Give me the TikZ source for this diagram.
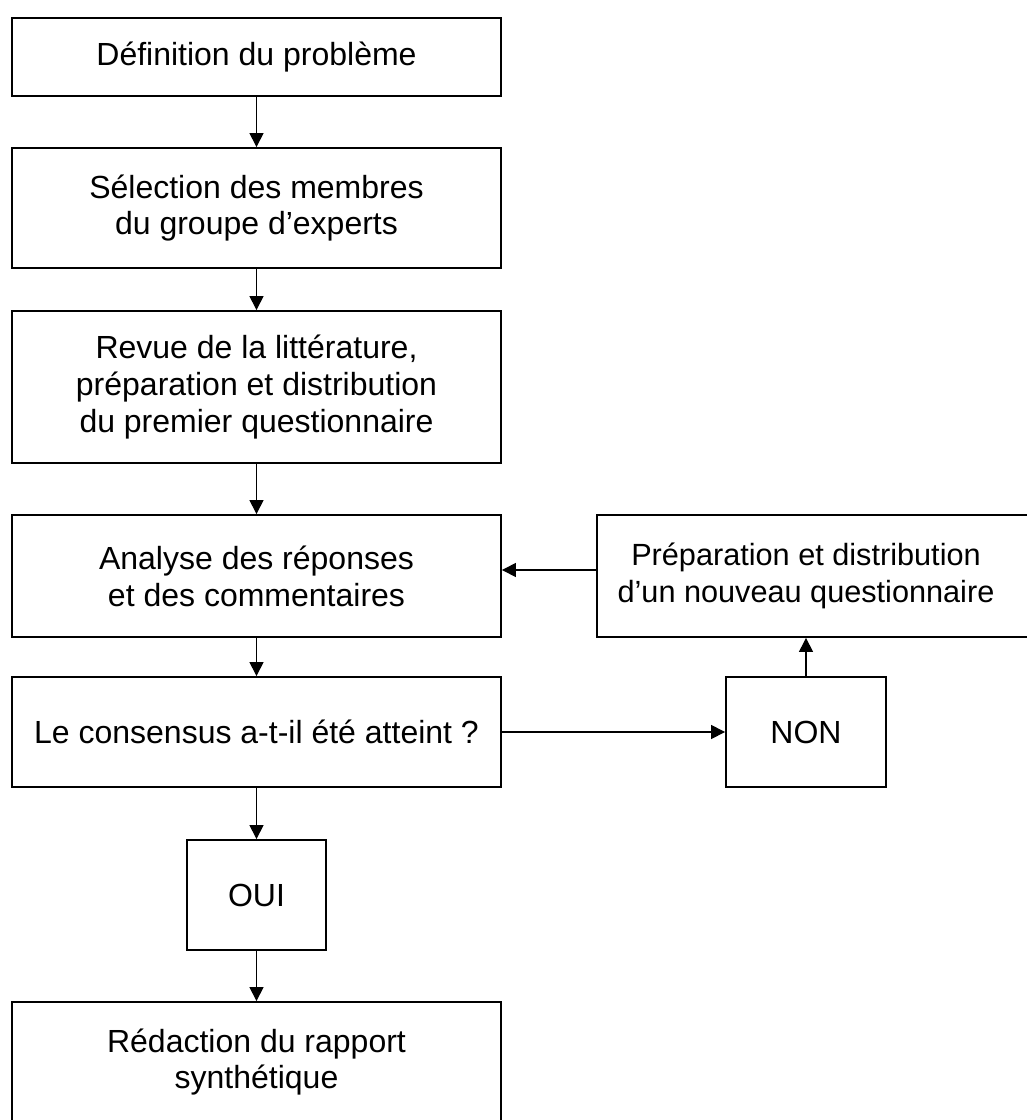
\documentclass[tikz,border=0pt]{standalone}
\usepackage{fontspec}
\setmainfont{Liberation Sans}
\usetikzlibrary{arrows.meta}
\begin{document}
\begin{tikzpicture}[x=0.75pt,y=-0.75pt,
  box/.style={draw=black,line width=1.4pt,rectangle,align=center,inner sep=0pt,
    font=\fontsize{24pt}{27.6pt}\selectfont},
  txt/.style={align=center,inner sep=0pt,font=\fontsize{23pt}{27.6pt}\selectfont},
  conn/.style={line width=1pt,-{Triangle[width=10.5pt,length=10.5pt]}}]
\useasboundingbox (0,0) rectangle (1027,1120);
\clip (0,0) rectangle (1027,1120);
\fill[white] (0,0) rectangle (1027,1120);
\node[box,minimum width=366.75pt,minimum height=58.5pt] (b1) at (256.5,57) {Définition du problème};
\node[box,minimum width=366.75pt,minimum height=90pt] (b2) at (256.5,208) {Sélection des membres\\du groupe d’experts};
\node[box,minimum width=366.75pt,minimum height=114pt] (b3) at (256.5,387) {Revue de la littérature,\\préparation et distribution\\du premier questionnaire};
\node[box,minimum width=366.75pt,minimum height=91.5pt] (b4) at (256.5,576) {Analyse des réponses\\et des commentaires};
\node[box,minimum width=366.75pt,minimum height=82.5pt] (b5) at (256.5,732) {Le consensus a-t-il été atteint ?};
\node[box,minimum width=104.25pt,minimum height=82.5pt] (oui) at (256.5,895) {OUI};
\node[box,minimum width=366.75pt,minimum height=90pt] (b7) at (256.5,1062) {Rédaction du rapport\\synthétique};
\node[box,minimum width=328.5pt,minimum height=91.5pt] (prep) at (816,576) {};
\node[txt] (preptext) at (806,576) {Préparation et distribution\\d’un nouveau questionnaire};
\node[box,minimum width=120pt,minimum height=82.5pt] (non) at (806,732) {NON};
\draw[conn] (b1.south) -- (b2.north);
\draw[conn] (b2.south) -- (b3.north);
\draw[conn] (b3.south) -- (b4.north);
\draw[conn] (b4.south) -- (b5.north);
\draw[conn] (b5.south) -- (oui.north);
\draw[conn] (oui.south) -- (b7.north);
\draw[conn] (b5.east) -- (non.west);
\draw[conn] (non.north) -- (non.north |- prep.south);
\draw[conn] ([yshift=4.5pt]prep.west) -- ([yshift=4.5pt]b4.east);
\end{tikzpicture}
\end{document}
